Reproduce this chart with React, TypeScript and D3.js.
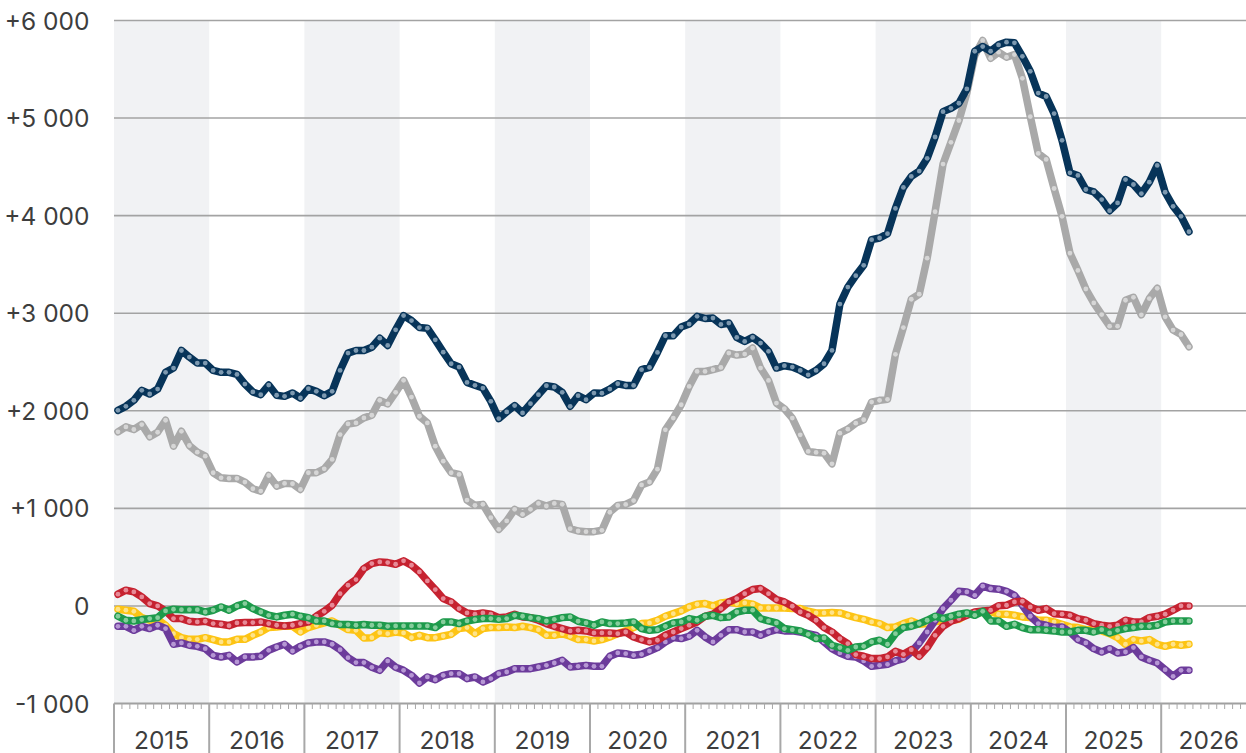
import React from "react";
import * as d3 from "d3";

// Monthly data, Jan 2015 – Apr 2026
const startYear = 2015;
const yearLabels = ["2015","2016","2017","2018","2019","2020","2021","2022","2023","2024","2025","2026"];
const yTicks = [-1000, 0, 1000, 2000, 3000, 4000, 5000, 6000];

const navyValues = [2005,2046,2107,2210,2172,2223,2394,2438,2618,2550,2489,2489,
 2414,2394,2394,2373,2274,2193,2165,2264,2159,2148,2182,2131,
 2227,2199,2155,2199,2414,2591,2618,2618,2652,2744,2670,2830,
 2976,2925,2853,2847,2727,2601,2482,2448,2291,2261,2233,2097,
 1920,1988,2053,1978,2073,2165,2257,2244,2189,2046,2155,2114,
 2182,2181,2222,2277,2260,2260,2421,2444,2598,2769,2769,2858,
 2889,2968,2947,2950,2885,2899,2752,2711,2752,2694,2609,2438,
 2462,2448,2414,2369,2414,2482,2619,3094,3268,3385,3491,3754,
 3771,3815,4074,4289,4402,4457,4587,4806,5066,5100,5152,5299,
 5685,5733,5685,5750,5778,5771,5633,5479,5256,5221,5046,4772,
 4439,4412,4268,4244,4165,4051,4130,4370,4319,4226,4343,4515,
 4240,4096,3993,3835];

const grayValues = [1784,1835,1808,1859,1733,1780,1903,1637,1790,1644,1576,1535,
 1365,1313,1307,1307,1269,1201,1177,1337,1228,1256,1252,1194,
 1365,1365,1405,1501,1756,1865,1876,1927,1954,2107,2070,2189,
 2312,2141,1944,1876,1637,1484,1365,1348,1085,1031,1041,905,
 785,871,990,939,990,1051,1024,1051,1041,792,768,761,
 761,775,960,1030,1040,1080,1240,1270,1402,1805,1925,2062,
 2250,2403,2403,2421,2444,2591,2571,2581,2643,2438,2311,2079,
 2021,1925,1754,1583,1573,1566,1456,1771,1812,1873,1908,2089,
 2107,2117,2579,2853,3143,3195,3564,4040,4529,4751,4974,5258,
 5641,5795,5613,5675,5624,5651,5407,5015,4638,4576,4278,3993,
 3616,3439,3248,3105,2986,2867,2867,3133,3163,2983,3150,3255,
 2963,2827,2782,2656];

const redValues = [120,161,144,92,24,0,-51,-130,-130,-157,-164,-157,
 -181,-188,-202,-174,-171,-171,-164,-181,-198,-205,-198,-181,
 -164,-106,-55,7,126,212,270,383,434,451,444,427,
 462,417,349,256,168,75,41,-27,-72,-85,-72,-85,
 -120,-113,-85,-113,-120,-147,-181,-209,-232,-256,-250,-256,
 -277,-277,-277,-284,-267,-318,-345,-369,-352,-301,-267,-232,
 -198,-164,-106,-85,-27,41,75,126,168,178,126,65,
 41,-3,-62,-96,-147,-222,-267,-335,-386,-499,-516,-540,
 -540,-523,-465,-496,-448,-516,-427,-301,-209,-157,-130,-96,
 -62,-51,-44,3,7,41,48,-10,-44,-27,-79,-85,
 -96,-130,-147,-181,-198,-209,-198,-147,-164,-164,-120,-106,
 -85,-44,0,0];

const yellowValues = [-34,-44,-55,-120,-147,-140,-198,-284,-325,-342,-342,-325,
 -345,-369,-369,-342,-342,-301,-267,-222,-215,-205,-209,-267,
 -222,-198,-174,-154,-198,-243,-250,-328,-325,-274,-284,-267,
 -277,-325,-301,-325,-325,-308,-291,-232,-222,-284,-232,-222,
 -222,-215,-222,-209,-222,-243,-301,-301,-284,-311,-345,-345,
 -359,-345,-318,-284,-256,-222,-181,-174,-147,-106,-79,-51,
 -10,17,24,0,31,41,24,31,17,-21,-21,-21,
 -21,-27,-27,-55,-72,-72,-68,-72,-96,-120,-137,-164,
 -181,-222,-215,-181,-154,-188,-181,-164,-147,-147,-137,-85,
 -79,-62,-62,-85,-85,-96,-113,-120,-147,-147,-164,-188,
 -215,-222,-243,-243,-256,-284,-325,-393,-345,-359,-345,-393,
 -414,-393,-403,-393];

const greenValues = [-106,-147,-154,-140,-130,-120,-51,-34,-38,-38,-38,-62,
 -44,-10,-44,0,24,-27,-62,-96,-113,-96,-85,-106,
 -120,-154,-154,-181,-191,-191,-198,-191,-198,-198,-209,-205,
 -205,-205,-205,-205,-222,-164,-164,-181,-154,-140,-130,-130,
 -137,-130,-96,-106,-120,-130,-154,-137,-120,-113,-157,-174,
 -198,-164,-181,-181,-174,-164,-232,-250,-243,-209,-174,-164,
 -130,-147,-106,-96,-120,-113,-62,-44,-44,-130,-154,-174,
 -232,-243,-256,-291,-335,-328,-403,-427,-455,-421,-414,-369,
 -352,-393,-284,-222,-209,-181,-147,-106,-130,-106,-85,-72,
 -96,-55,-154,-154,-209,-188,-222,-243,-243,-250,-256,-267,
 -267,-250,-250,-267,-243,-277,-250,-232,-222,-209,-209,-198,
 -164,-154,-154,-154];

const purpleValues = [-209,-209,-250,-209,-232,-198,-232,-393,-379,-403,-414,-438,
 -506,-523,-506,-574,-523,-523,-516,-455,-421,-393,-462,-414,
 -379,-369,-369,-393,-448,-530,-581,-581,-629,-660,-564,-629,
 -660,-711,-790,-728,-756,-711,-694,-694,-745,-728,-779,-745,
 -694,-677,-643,-643,-643,-626,-609,-585,-557,-626,-619,-609,
 -619,-619,-516,-482,-489,-506,-496,-462,-427,-369,-325,-335,
 -311,-250,-318,-369,-301,-243,-243,-267,-267,-301,-267,-243,
 -256,-256,-267,-284,-301,-369,-438,-482,-516,-523,-564,-619,
 -609,-598,-564,-540,-472,-379,-267,-147,-27,58,150,144,
 109,202,178,171,150,109,7,-106,-181,-198,-222,-215,
 -267,-345,-379,-438,-472,-438,-482,-472,-427,-523,-557,-585,
 -653,-721,-660,-660];

const series = [
  { key: "yellow", values: yellowValues, stroke: "#fdc414", dot: "#fee38a" },
  { key: "purple", values: purpleValues, stroke: "#6c3b9b", dot: "#b697d4" },
  { key: "red", values: redValues, stroke: "#c62230", dot: "#e78a97" },
  { key: "green", values: greenValues, stroke: "#1d9a4b", dot: "#86cd9c" },
  { key: "gray", values: grayValues, stroke: "#a9a9a9", dot: "#d6d6d6" },
  { key: "navy", values: navyValues, stroke: "#073459", dot: "#7d99b0" },
];

const W = 1246;
const H = 753;
const FONT = "Inter, 'Noto Sans', sans-serif";

export default function App() {
  const x = d3.scaleLinear().domain([2015, 2027]).range([114, 1256.4]);
  const y = d3.scaleLinear().domain([-1000, 6000]).range([703.5, 20.5]);
  const tx = (i: number) => x(startYear + (i + 0.5) / 12);
  const line = d3
    .line<number>()
    .x((_, i) => tx(i))
    .y((d) => y(d))
    .curve(d3.curveLinear);

  const years = yearLabels.map((l, i) => ({ label: l, y0: startYear + i }));
  const months = d3.range(0, 12 * 12 + 1);

  return (
    <div style={{ position: "absolute", left: 0, top: 0 }}>
      <svg width={W} height={H} style={{ display: "block" }}>
        <rect x={0} y={0} width={W} height={H} fill="#ffffff" />
        {years
          .filter((_, i) => i % 2 === 0 && i < 11)
          .map((yr) => (
            <rect
              key={yr.label}
              x={x(yr.y0)}
              y={y(6000)}
              width={x(yr.y0 + 1) - x(yr.y0)}
              height={y(-1000) - y(6000)}
              fill="#f1f2f4"
            />
          ))}
        {yTicks.filter((t) => t > -1000).map((t) => (
          <line key={t} x1={x(2015)} x2={W} y1={y(t)} y2={y(t)} stroke="#a3a3a3" strokeWidth={1.6} />
        ))}
        {yTicks.map((t) => (
          <text
            key={"l" + t}
            x={89.5}
            y={y(t) + 9}
            textAnchor="end"
            fontFamily={FONT}
            fontSize={24.5}
            fill="#3d3d3d"
          >
            {t === 0 ? "0" : (t > 0 ? "+" : "-") + d3.format(",")(Math.abs(t)).replace(/,/g, " ")}
          </text>
        ))}
        {/* x axis */}
        <line x1={x(2015)} x2={W} y1={y(-1000)} y2={y(-1000)} stroke="#a0a0a0" strokeWidth={2} />
        {months.map((m) =>
          m % 12 === 0 ? (
            <line key={"m" + m} x1={x(2015 + m / 12)} x2={x(2015 + m / 12)} y1={y(-1000)} y2={H} stroke="#a8a8a8" strokeWidth={2} />
          ) : (
            <line key={"m" + m} x1={x(2015 + m / 12)} x2={x(2015 + m / 12)} y1={y(-1000)} y2={y(-1000) + 5.5} stroke="#a8a8a8" strokeWidth={1} />
          )
        )}
        {years.map((yr) => (
          <text
            key={"y" + yr.label}
            x={x(yr.y0 + 0.5)}
            y={748.5}
            textAnchor="middle"
            fontFamily={FONT}
            fontSize={24.5}
            fill="#3d3d3d"
          >
            {yr.label}
          </text>
        ))}
        {series.map((s) => (
          <g key={s.key}>
            <path
              d={line(s.values) || ""}
              fill="none"
              stroke={s.stroke}
              strokeWidth={7.5}
              strokeLinejoin="round"
              strokeLinecap="round"
            />
            {s.values.map((v, i) => (
              <circle key={i} cx={tx(i)} cy={y(v)} r={2.4} fill={s.dot} />
            ))}
          </g>
        ))}
      </svg>
    </div>
  );
}
